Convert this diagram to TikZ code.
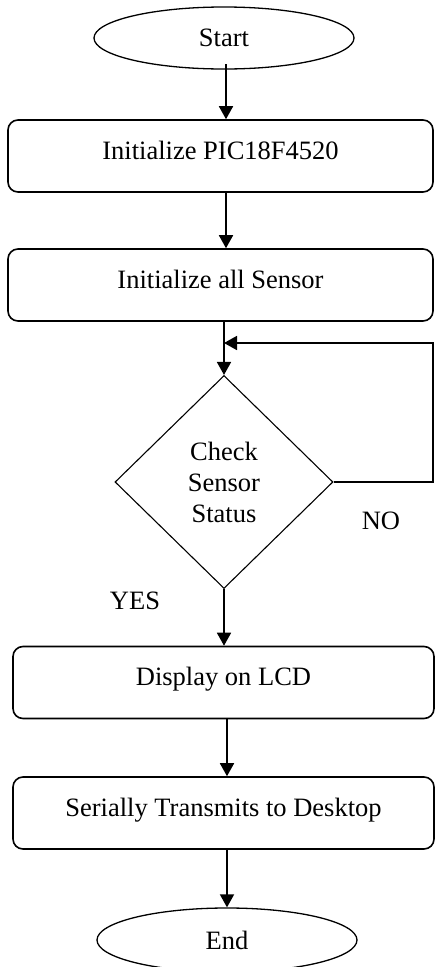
\documentclass[tikz,border=0pt]{standalone}
\usepackage{fontspec}
\setmainfont{Liberation Serif}
\usepackage{tikz}
\usetikzlibrary{arrows.meta, positioning, shapes.geometric, calc}

\begin{document}
\begin{tikzpicture}[x=1pt, y=-1pt,
    every node/.style={font=\fontsize{26.5}{31}\selectfont},
    terminal/.style={ellipse, draw, line width=1.3pt, minimum width=260pt, minimum height=62pt, inner sep=0pt},
    stepbox/.style={rectangle, rounded corners=10pt, draw, line width=1.6pt, minimum height=72pt, inner sep=0pt, text height=18pt, text depth=12pt},
    decision/.style={diamond, draw, line width=1.1pt, minimum width=218pt, minimum height=213pt, inner sep=0pt, align=center},
    flow/.style={-{Triangle[length=13pt, width=14pt]}, line width=1.7pt}]
    \useasboundingbox (0,0) rectangle (434,967);
    % Start and initialisation
    \node[terminal] (start) at (224, 38) {Start};
    \node[stepbox, minimum width=425pt] (initpic) at (220.5, 156) {Initialize PIC18F4520};
    \node[stepbox, minimum width=425pt] (initsens) at (220.5, 285) {Initialize all Sensor};
    \coordinate (spine) at (226, 64);
    % Check loop
    \node[decision] (check) at (224, 482) {Check\\Sensor\\Status};
    \coordinate (merge) at (224, 343);
    \coordinate (loopcorner) at (433, 343);
    \node (no) at (381, 521) {NO};
    \node (yes) at (135, 601) {YES};
    % Output
    \node[stepbox, minimum width=421pt] (lcd) at (223.5, 682.5) {Display on LCD};
    \node[stepbox, minimum width=421pt] (serial) at (223.5, 813) {Serially Transmits to Desktop};
    \node[terminal, minimum height=64pt] (stop) at (227, 940) {End};
    % Connectors
    \draw[flow] (spine) -- (spine |- initpic.north);
    \draw[flow] (spine |- initpic.south) -- (spine |- initsens.north);
    \draw[flow] (check.north |- initsens.south) -- (check.north);
    \draw[flow] (check.east) -- (check.east -| loopcorner) -- (loopcorner) -- (merge);
    \draw[flow] (check.south) -- (check.south |- lcd.north);
    \draw[flow] (stop.north |- lcd.south) -- (stop.north |- serial.north);
    \draw[flow] (stop.north |- serial.south) -- (stop.north);
\end{tikzpicture}
\end{document}
